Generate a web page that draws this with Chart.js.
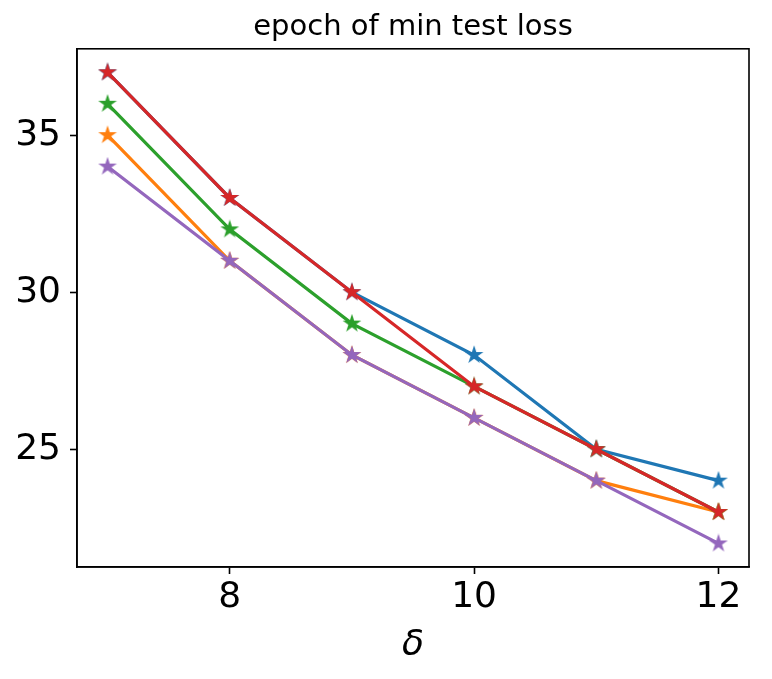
<!DOCTYPE html>
<html>
<head>
<meta charset="utf-8">
<script src="https://cdn.jsdelivr.net/npm/chart.js@4/dist/chart.umd.min.js"></script>
<style>
  html, body { margin: 0; padding: 0; background: #fff; }
  canvas { display: block; }
</style>
</head>
<body>
<canvas id="grafico" width="772" height="679"></canvas>
<script>
// datos
const deltas = [7, 8, 9, 10, 11, 12];
const serieAzul = [37, 33, 30, 28, 25, 24];
const serieNaranja = [35, 31, 28, 26, 24, 23];
const serieVerde = [36, 32, 29, 27, 25, 23];
const serieRoja = [37, 33, 30, 27, 25, 23];
const serieMorada = [34, 31, 28, 26, 24, 22];
const ticksX = [8, 10, 12];
const ticksY = [25, 30, 35];
const titulo = 'epoch of min test loss';
const etiquetaX = 'δ';

const fuente = "'DejaVu Sans', sans-serif";

// estrella rellena tipo matplotlib
function estrella(color) {
  const c = document.createElement('canvas');
  c.width = 20;
  c.height = 20;
  const ctx = c.getContext('2d');
  const cx = 10, cy = 10, rExt = 6.6, rInt = 6.6 * 0.381966;
  ctx.beginPath();
  for (let i = 0; i < 10; i++) {
    const r = i % 2 === 0 ? rExt : rInt;
    const a = -Math.PI / 2 + i * Math.PI / 5;
    const px = cx + r * Math.cos(a);
    const py = cy + r * Math.sin(a);
    if (i === 0) ctx.moveTo(px, py); else ctx.lineTo(px, py);
  }
  ctx.closePath();
  ctx.fillStyle = color;
  ctx.fill();
  ctx.lineWidth = 2;
  ctx.lineJoin = 'miter';
  ctx.strokeStyle = color;
  ctx.stroke();
  return c;
}

function serie(valores, color, orden) {
  return {
    data: deltas.map((d, i) => ({ x: d, y: valores[i] })),
    borderColor: color,
    backgroundColor: color,
    borderWidth: 3.2,
    pointStyle: estrella(color),
    pointRadius: 7,
    pointHoverRadius: 7,
    tension: 0,
    order: orden
  };
}

// marco completo alrededor del area
const marco = {
  id: 'marco',
  afterDraw(chart) {
    const a = chart.chartArea;
    const ctx = chart.ctx;
    ctx.save();
    ctx.strokeStyle = '#000';
    ctx.lineWidth = 1.6;
    ctx.strokeRect(a.left, a.top, a.right - a.left, a.bottom - a.top);
    ctx.restore();
  }
};

new Chart(document.getElementById('grafico'), {
  type: 'line',
  data: {
    datasets: [
      serie(serieAzul, '#1f77b4', 5),
      serie(serieNaranja, '#ff7f0e', 4),
      serie(serieVerde, '#2ca02c', 3),
      serie(serieRoja, '#d62728', 2),
      serie(serieMorada, '#9467bd', 1)
    ]
  },
  options: {
    responsive: false,
    animation: false,
    layout: { padding: { left: 0, right: 23, top: 0, bottom: 0 } },
    plugins: {
      legend: { display: false },
      tooltip: { enabled: false },
      title: {
        display: true,
        text: titulo,
        fullSize: false,
        color: '#000',
        font: { family: fuente, size: 29, weight: 'normal' },
        padding: { top: 10, bottom: 4 }
      }
    },
    scales: {
      x: {
        type: 'linear',
        min: 6.75,
        max: 12.25,
        afterBuildTicks: s => { s.ticks = ticksX.map(v => ({ value: v })); },
        afterFit: s => { s.height = 112; },
        grid: { drawOnChartArea: false, drawTicks: true, tickLength: 7, tickColor: '#000', tickWidth: 1.6 },
        border: { display: true, color: '#000', width: 1.6 },
        ticks: { color: '#000', padding: 2, maxRotation: 0, font: { family: fuente, size: 36 } },
        title: {
          display: true,
          text: etiquetaX,
          color: '#000',
          font: { family: fuente, size: 36, style: 'italic' },
          padding: { top: 0, bottom: 12 }
        }
      },
      y: {
        type: 'linear',
        min: 21.25,
        max: 37.75,
        afterBuildTicks: s => { s.ticks = ticksY.map(v => ({ value: v })); },
        afterFit: s => { s.width = 77; },
        grid: { drawOnChartArea: false, drawTicks: true, tickLength: 7, tickColor: '#000', tickWidth: 1.6 },
        border: { display: true, color: '#000', width: 1.6 },
        ticks: { color: '#000', padding: 9, font: { family: fuente, size: 36 } }
      }
    }
  },
  plugins: [marco]
});
</script>
</body>
</html>
